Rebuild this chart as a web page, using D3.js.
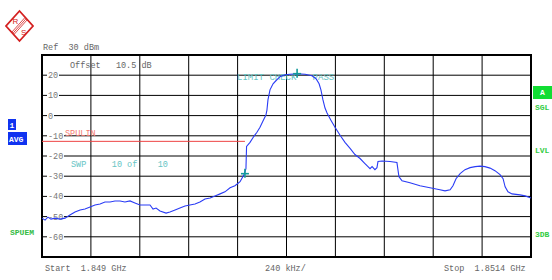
<!DOCTYPE html>
<html>
<head>
<meta charset="utf-8">
<script src="https://cdn.jsdelivr.net/npm/d3@7"></script>
<style>
body { margin: 0; background: #fff; }
text { font-family: "Liberation Mono", monospace; white-space: pre; }
</style>
</head>
<body>
<svg id="chart"></svg>
<script>
// trace: offset from start frequency (kHz) and level (dBm)
var freqKHz = [0, 15, 29, 44, 64, 88, 113, 137, 162, 187, 211, 236, 260, 285, 309, 334, 358, 383, 407, 432,
  456, 481, 506, 530, 545, 560, 579, 609, 628, 653, 677, 702, 726, 751, 775, 800, 825, 849, 874, 898,
  923, 947, 972, 991, 1001, 1004, 1021, 1040, 1055, 1070, 1084, 1099, 1104, 1109, 1119, 1134, 1148, 1168, 1193, 1217,
  1252, 1291, 1325, 1345, 1360, 1369, 1379, 1389, 1399, 1418, 1438, 1463, 1487, 1512, 1536, 1561, 1585, 1600, 1610, 1620,
  1634, 1644, 1649, 1669, 1708, 1742, 1752, 1767, 1806, 1855, 1904, 1953, 1978, 2003, 2017, 2032, 2052, 2076, 2101, 2126,
  2150, 2174, 2199, 2223, 2248, 2263, 2273, 2287, 2307, 2346, 2371, 2400];
var levelDbm = [-50.75, -51.75, -50.25, -51.25, -50.75, -51.25, -50.75, -49.25, -47.75, -46.75, -46.25, -45.25, -44.25, -43.75, -42.75, -42.75, -42.25, -42.25, -42.75, -42.25,
  -43.25, -44.25, -44.25, -44.25, -46.25, -45.75, -47.25, -48.25, -47.75, -46.75, -45.75, -44.75, -44.25, -43.75, -42.75, -41.25, -40.75, -39.75, -38.75, -37.75,
  -35.75, -34.75, -32.75, -29.25, -26.25, -15.25, -13.25, -10.25, -8.25, -5.75, -2.75, 0.25, 2.75, 7.75, 12.75, 15.75, 17.25, 19.25, 20.25, 20.5,
  20.75, 20.5, 19.75, 18.25, 15.75, 12.75, 7.75, 3.75, 1.25, -2.25, -5.75, -9.75, -13.25, -16.25, -19.25, -21.25, -23.75, -25.25, -26.25, -25.25,
  -26.75, -25.75, -22.75, -22.5, -22.75, -23.25, -30.25, -32.25, -33.25, -34.75, -35.75, -36.75, -37.25, -36.75, -34.75, -31.25, -28.75, -26.75, -25.75, -25.25,
  -25.0, -25.25, -26.0, -27.25, -29.25, -31.25, -35.25, -37.75, -38.75, -39.25, -39.75, -40.75];

var markerFreq = [1252, 996];
var markerLevel = [20.75, -28.75];
var limitFreq = [0, 996];
var limitLevel = [-12.75, -12.75];

var yTicks = [20, 10, 0, -10, -20, -30, -40, -50, -60];
var xTicks = [240, 480, 720, 960, 1200, 1440, 1680, 1920, 2160];

var W = 552, H = 280;
var svg = d3.select('#chart').attr('width', W).attr('height', H);
svg.append('rect').attr('width', W).attr('height', H).attr('fill', '#fff');

var xs = d3.scaleLinear().domain([0, 2400]).range([42, 531]);
var ys = d3.scaleLinear().domain([30, -70]).range([55, 257]);

// grid
svg.append('g').selectAll('line').data(xTicks).enter().append('line')
  .attr('x1', function(d) { return xs(d); }).attr('x2', function(d) { return xs(d); })
  .attr('y1', ys(30)).attr('y2', ys(-70))
  .attr('stroke', '#000').attr('stroke-width', 1);
svg.append('g').selectAll('line').data(yTicks).enter().append('line')
  .attr('x1', xs(0)).attr('x2', xs(2400))
  .attr('y1', function(d) { return ys(d); }).attr('y2', function(d) { return ys(d); })
  .attr('stroke', '#000').attr('stroke-width', 1);

// y labels sit on the grid lines with a white patch
var yl = svg.append('g').selectAll('g').data(yTicks).enter().append('g');
yl.append('rect')
  .attr('x', 47).attr('y', function(d) { return ys(d) - 4; })
  .attr('width', function(d) { return String(d).length * 5 + 2; }).attr('height', 8)
  .attr('fill', '#fff');
yl.append('text')
  .attr('x', 48).attr('y', function(d) { return ys(d) + 3; })
  .attr('font-size', 8.5).attr('fill', '#777')
  .text(function(d) { return d; });

// frame
svg.append('rect').attr('x', xs(0)).attr('y', ys(30))
  .attr('width', xs(2400) - xs(0)).attr('height', ys(-70) - ys(30))
  .attr('fill', 'none').attr('stroke', '#000').attr('stroke-width', 2);

// limit line
svg.append('line')
  .attr('x1', xs(limitFreq[0])).attr('x2', xs(limitFreq[1]))
  .attr('y1', ys(limitLevel[0])).attr('y2', ys(limitLevel[1]))
  .attr('stroke', '#ee4444').attr('stroke-width', 1);
svg.append('text').attr('x', 65).attr('y', 136).attr('font-size', 8.5).attr('fill', '#f47a70').text('SPULIN');

// trace labels
svg.append('text').attr('x', 71).attr('y', 167).attr('font-size', 8.5).attr('fill', '#66c4c4').text('SWP     10 of    10');
svg.append('text').attr('x', 237).attr('y', 80).attr('font-size', 9).attr('fill', '#66c4c4').text('LIMIT CHECK   PASS');

// trace
var pts = freqKHz.map(function(f, i) { return [f, levelDbm[i]]; });
var line = d3.line().x(function(d) { return xs(d[0]); }).y(function(d) { return ys(d[1]); });
svg.append('path').datum(pts).attr('d', line)
  .attr('fill', 'none').attr('stroke', '#2a3cf5').attr('stroke-width', 1.1);

// markers
var mk = svg.append('g').selectAll('g').data(markerFreq).enter().append('g')
  .attr('transform', function(d, i) { return 'translate(' + xs(d) + ',' + ys(markerLevel[i]) + ')'; });
mk.append('line').attr('x1', -4).attr('x2', 4).attr('stroke', '#129a9a').attr('stroke-width', 1.6);
mk.append('line').attr('y1', -5).attr('y2', 4).attr('stroke', '#129a9a').attr('stroke-width', 1.6);

// header / footer text
svg.append('text').attr('x', 43).attr('y', 50).attr('font-size', 8.5).attr('fill', '#666').text('Ref  30 dBm');
svg.append('text').attr('x', 70).attr('y', 68).attr('font-size', 8.5).attr('fill', '#666').text('Offset   10.5 dB');
svg.append('text').attr('x', 45).attr('y', 271).attr('font-size', 8.5).attr('fill', '#666').text('Start  1.849 GHz');
svg.append('text').attr('x', 265).attr('y', 271).attr('font-size', 8.5).attr('fill', '#666').text('240 kHz/');
svg.append('text').attr('x', 444).attr('y', 271).attr('font-size', 8.5).attr('fill', '#666').text('Stop  1.8514 GHz');

// side annotations
svg.append('rect').attr('x', 8).attr('y', 119).attr('width', 8).attr('height', 11).attr('fill', '#1033f0');
svg.append('text').attr('x', 9.5).attr('y', 128).attr('font-size', 8).attr('font-weight', 'bold').attr('fill', '#fff').text('1');
svg.append('rect').attr('x', 8).attr('y', 132).attr('width', 19).attr('height', 13).attr('fill', '#1033f0');
svg.append('text').attr('x', 9).attr('y', 142).attr('font-size', 8).attr('font-weight', 'bold').attr('fill', '#fff').text('AVG');
svg.append('text').attr('x', 10).attr('y', 235).attr('font-size', 8).attr('font-weight', 'bold').attr('fill', '#33bb44').text('SPUEM');

svg.append('rect').attr('x', 533).attr('y', 86).attr('width', 19).attr('height', 13).attr('fill', '#11dd33');
svg.append('text').attr('x', 540).attr('y', 95).attr('font-size', 8).attr('font-weight', 'bold').attr('fill', '#fff').text('A');
svg.append('text').attr('x', 535).attr('y', 110).attr('font-size', 8).attr('font-weight', 'bold').attr('fill', '#33cc44').text('SGL');
svg.append('text').attr('x', 535).attr('y', 153).attr('font-size', 8).attr('font-weight', 'bold').attr('fill', '#33cc44').text('LVL');
svg.append('text').attr('x', 535).attr('y', 237).attr('font-size', 8).attr('font-weight', 'bold').attr('fill', '#33cc44').text('3DB');

// logo
var logo = svg.append('g').attr('transform', 'translate(19.5,26)');
logo.append('path').attr('d', 'M0,-15L13.5,0L0,15L-13.5,0Z')
  .attr('fill', '#fff').attr('stroke', '#d42020').attr('stroke-width', 1.8);
[-1.6, 0, 1.6].forEach(function(o) {
  logo.append('line')
    .attr('x1', 6.75 + o * 0.74).attr('y1', -7.5 + o * 0.67)
    .attr('x2', -6.75 + o * 0.74).attr('y2', 7.5 + o * 0.67)
    .attr('stroke', '#d42020').attr('stroke-width', 0.8);
});
logo.append('text').attr('x', -7).attr('y', -2).attr('font-size', 8).attr('fill', '#d42020')
  .style('font-family', 'Liberation Sans, sans-serif').text('R');
logo.append('text').attr('x', 1.5).attr('y', 9).attr('font-size', 8).attr('fill', '#d42020')
  .style('font-family', 'Liberation Sans, sans-serif').text('S');
</script>
</body>
</html>
